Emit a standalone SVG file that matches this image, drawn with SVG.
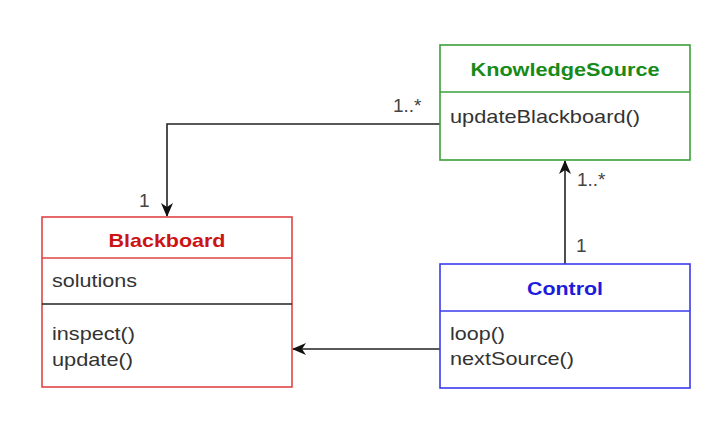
<svg xmlns="http://www.w3.org/2000/svg" width="726" height="426" viewBox="0 0 726 426">
<style>
text{font-family:"Liberation Sans",Arial,Helvetica,sans-serif;font-size:19px;fill:#333}
.t{font-weight:bold;text-anchor:middle}
.box{fill:#fff;stroke-width:1.6}
.ks{stroke:#3a9f3a}.bb{stroke:#e04545}.ct{stroke:#3a3aee}
.edge{fill:none;stroke:#222;stroke-width:1.6}
.lbl{font-size:19px;fill:#444}
</style>
<defs>
<marker id="arr" viewBox="0 0 14 12" refX="13" refY="6" markerWidth="14" markerHeight="12" markerUnits="userSpaceOnUse" orient="auto">
<path d="M0,0 L14,6 L0,12 L4,6 Z" fill="#111"/>
</marker>
</defs>
<rect width="726" height="426" fill="#fff"/>
<g id="connectors">
<polyline class="edge" points="440,124 167,124 167,216" marker-end="url(#arr)"/>
<line class="edge" x1="565" y1="264" x2="565" y2="161" marker-end="url(#arr)"/>
<line class="edge" x1="440" y1="349" x2="293" y2="349" marker-end="url(#arr)"/>
<text class="lbl" x="393" y="112">1..*</text>
<text class="lbl" x="139" y="207">1</text>
<text class="lbl" x="577" y="186">1..*</text>
<text class="lbl" x="576" y="252">1</text>
</g>
<g id="KnowledgeSource">
<rect class="box ks" x="440" y="45" width="250" height="115"/>
<line class="ks" x1="440" y1="92" x2="690" y2="92" stroke-width="1.6"/>
<text class="t" x="565" y="76" style="fill:#178a17" textLength="189" lengthAdjust="spacingAndGlyphs">KnowledgeSource</text>
<text x="450" y="123" textLength="190" lengthAdjust="spacingAndGlyphs">updateBlackboard()</text>
</g>
<g id="Blackboard">
<rect class="box bb" x="42" y="217" width="250" height="170"/>
<line class="bb" x1="42" y1="258" x2="292" y2="258" stroke-width="1.6"/>
<line x1="42" y1="304" x2="292" y2="304" stroke="#222" stroke-width="1.6"/>
<text class="t" x="167" y="247" style="fill:#cc1414" textLength="117" lengthAdjust="spacingAndGlyphs">Blackboard</text>
<text x="52" y="287" textLength="85" lengthAdjust="spacingAndGlyphs">solutions</text>
<text x="52" y="340" textLength="83" lengthAdjust="spacingAndGlyphs">inspect()</text>
<text x="52" y="366" textLength="81" lengthAdjust="spacingAndGlyphs">update()</text>
</g>
<g id="Control">
<rect class="box ct" x="440" y="264" width="250" height="124"/>
<line class="ct" x1="440" y1="311" x2="690" y2="311" stroke-width="1.6"/>
<text class="t" x="565" y="295" style="fill:#1c1cdc" textLength="76" lengthAdjust="spacingAndGlyphs">Control</text>
<text x="450" y="340" textLength="55" lengthAdjust="spacingAndGlyphs">loop()</text>
<text x="450" y="365" textLength="124" lengthAdjust="spacingAndGlyphs">nextSource()</text>
</g>
</svg>
